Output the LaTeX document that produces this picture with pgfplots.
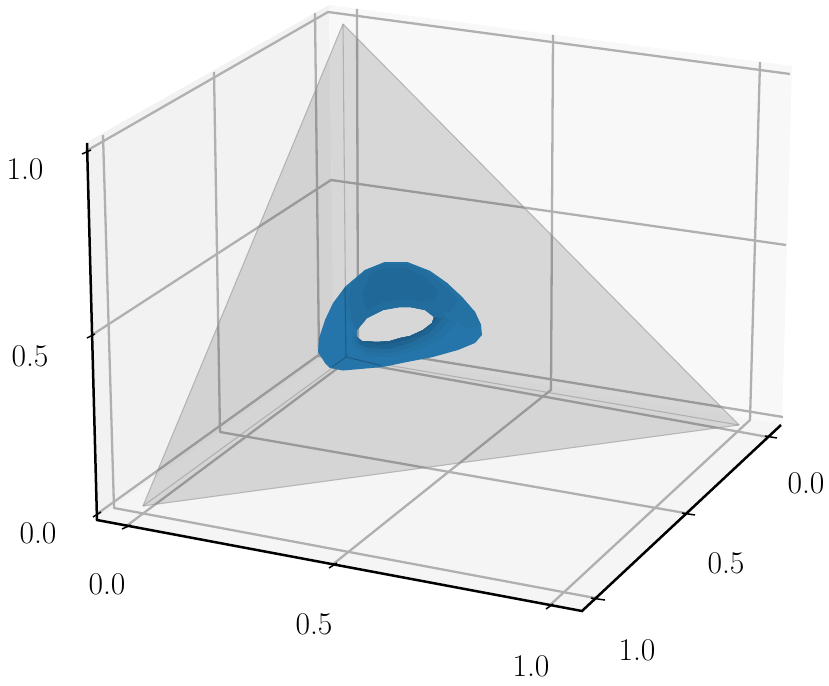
\documentclass[border=0pt]{standalone}
\usepackage{xcolor}
\usepackage{pgfplots}
\pgfplotsset{compat=1.18}
\definecolor{gridgray}{HTML}{B0B0B0}
\definecolor{blueA}{HTML}{2675AA}
\definecolor{blueB}{HTML}{2471A4}
\definecolor{blueC}{HTML}{226C9E}
\definecolor{blueD}{HTML}{206898}
\definecolor{blueE}{HTML}{1F6491}
\definecolor{blueF}{HTML}{1C5C87}
\tikzset{lab/.style={font=\fontsize{15.8}{18}\selectfont, inner sep=0pt, anchor=center}}
\pgfplotsset{
  pane/.style={draw=none, forget plot},
  grid3d/.style={draw=gridgray, line width=1.15pt, line join=round, forget plot},
  axis3d/.style={draw=black, line width=1.25pt, line join=miter, forget plot},
  tick3d/.style={draw=black, line width=0.75pt, forget plot},
  simplex/.style={draw=black!40, line width=0.55pt, draw opacity=0.6, line join=round, forget plot},
  surf3d/.style={draw=none, forget plot},
}

\begin{document}
\begin{tikzpicture}
% projected 3D view, coordinates are the picture's pixels
\begin{axis}[
  width=414.5pt, height=342.5pt,
  scale only axis,
  xmin=0, xmax=829,
  ymin=0, ymax=685,
  y dir=reverse,
  hide axis,
  clip=false,
  no markers,
]
% panes
\addplot[pane, fill=white!95!black] coordinates {(97,520) (87,142) (329,5) (334,349) (97,520)};
\addplot[pane, fill=white!97.2!black] coordinates {(334,349) (329,5) (792,66) (782,424) (334,349)};
\addplot[pane, fill=white!96!black] coordinates {(97,520) (582,611) (782,424) (334,349) (97,520)};

% x grid
\addplot[grid3d] coordinates {(125,527) (358,353) (357,9)};
\addplot[grid3d] coordinates {(332,565) (551,390) (553,35)};
\addplot[grid3d] coordinates {(549,606) (750,420) (760,62)};
% y grid
\addplot[grid3d] coordinates {(768,437) (319,356) (315,13)};
\addplot[grid3d] coordinates {(685,513) (220,432) (214,72)};
\addplot[grid3d] coordinates {(595,598) (114,508) (103,135)};
% z grid
\addplot[grid3d] coordinates {(97,514) (334,344) (783,417)};
\addplot[grid3d] coordinates {(92,335) (331,180) (786,245)};
\addplot[grid3d] coordinates {(88,150) (328,12) (790,74)};

% simplex
\addplot[forget plot, draw=none, fill=black, fill opacity=0.13] coordinates {(343,24) (143,506) (739,425) (343,24)};
\addplot[simplex] coordinates {(343,24) (143,506) (739,425) (343,24)};
\addplot[simplex] coordinates {(343,24) (346,358)};
\addplot[simplex] coordinates {(143,506) (346,358)};
\addplot[simplex] coordinates {(739,425) (346,358)};

% blue surface, outline then the hole through a slit
\addplot[surf3d, fill=blueA] coordinates {
 (318,352) (319,338) (325,320) (333,303) (345,287) (365,270) (385,262) (407,262)
 (430,271) (447,283) (462,297) (475,312) (481,325) (482,335) (475,343) (458,350)
 (433,357) (407,362) (383,367) (343,370.5) (330,368) (325,363) (318,352)
 (357,337) (362,341) (377,342) (390,341) (400,338) (410,336) (423,330) (432,323)
 (434,317) (425,310) (410,307) (400,307) (383,310) (367,318) (357,330) (357,337) (318,352)
};
% shading above the hole
\addplot[surf3d, fill=blueB] coordinates {
 (342,292) (345,287) (365,270) (385,262) (407,262) (430,271) (447,283) (462,297) (475,312) (481,325)
 (466,328) (450,316) (434,317) (425,310) (410,307) (400,307) (383,310) (367,318) (357,330) (350,325) (342,292)
};
\addplot[surf3d, fill=blueC] coordinates {
 (352,283) (365,272) (385,264) (407,264) (428,273) (445,286) (458,300) (450,312) (434,317) (425,310)
 (410,307) (400,307) (383,310) (367,318) (357,330) (352,320) (349,300) (352,283)
};
\addplot[surf3d, fill=blueD] coordinates {
 (370,274) (386,268) (406,268) (424,277) (438,290) (436,300) (420,301) (400,299) (383,302) (366,310) (362,295) (370,274)
};
% shading under the hole
\addplot[surf3d, fill=blueB] coordinates {
 (352,330) (352,345) (365,356) (390,357) (415,351) (440,339) (456,323) (447,311) (434,317)
 (432,323) (423,330) (410,336) (400,338) (390,341) (377,342) (362,341) (357,337) (352,330)
};
\addplot[surf3d, fill=blueC] coordinates {
 (354,336) (356,345) (367,352) (390,353) (412,347) (434,336) (449,321) (441,313) (434,317)
 (432,323) (423,330) (410,336) (400,338) (390,341) (377,342) (362,341) (357,337) (354,336)
};
\addplot[surf3d, fill=blueE] coordinates {
 (357,337) (359,344) (369,348) (390,349) (410,343) (430,332) (442,319) (434,317)
 (432,323) (423,330) (410,336) (400,338) (390,341) (377,342) (362,341) (357,337)
};
\addplot[surf3d, fill=blueF] coordinates {
 (362,341) (377,345) (395,343) (412,338) (428,328) (437,318) (434,317)
 (432,323) (423,330) (410,336) (400,338) (390,341) (377,342) (362,341)
};
% lines seen through the surface
\addplot[forget plot, draw=blueF, line width=0.55pt] coordinates {(345,288) (346,357)};
\addplot[forget plot, draw=blueF, line width=0.55pt] coordinates {(332,367) (346,357)};
\addplot[forget plot, draw=blueF, line width=0.55pt] coordinates {(346,357) (381,365.5)};

% axes and ticks
\addplot[axis3d] coordinates {(87,143) (97,520) (582,611) (781,425)};
\addplot[tick3d] coordinates {(93,517) (101,512)};
\addplot[tick3d] coordinates {(87,338) (95,334)};
\addplot[tick3d] coordinates {(82,154) (91,150)};
\addplot[tick3d] coordinates {(122,529) (131,525)};
\addplot[tick3d] coordinates {(329,568) (337,563)};
\addplot[tick3d] coordinates {(546,609) (553,604)};
\addplot[tick3d] coordinates {(765,436) (777,438)};
\addplot[tick3d] coordinates {(682,513) (695,515)};
\addplot[tick3d] coordinates {(591,598) (605,600)};

% tick labels
\node[lab] at (axis cs:25,169) {1.0};
\node[lab] at (axis cs:30,356) {0.5};
\node[lab] at (axis cs:38,533) {0.0};
\node[lab] at (axis cs:107,584) {0.0};
\node[lab] at (axis cs:314,624) {0.5};
\node[lab] at (axis cs:531,666) {1.0};
\node[lab] at (axis cs:806,483) {0.0};
\node[lab] at (axis cs:726,563) {0.5};
\node[lab] at (axis cs:637,650) {1.0};
\end{axis}
\pgfresetboundingbox
\useasboundingbox (0,0) rectangle (414.5pt,342.5pt);
\end{tikzpicture}
\end{document}
